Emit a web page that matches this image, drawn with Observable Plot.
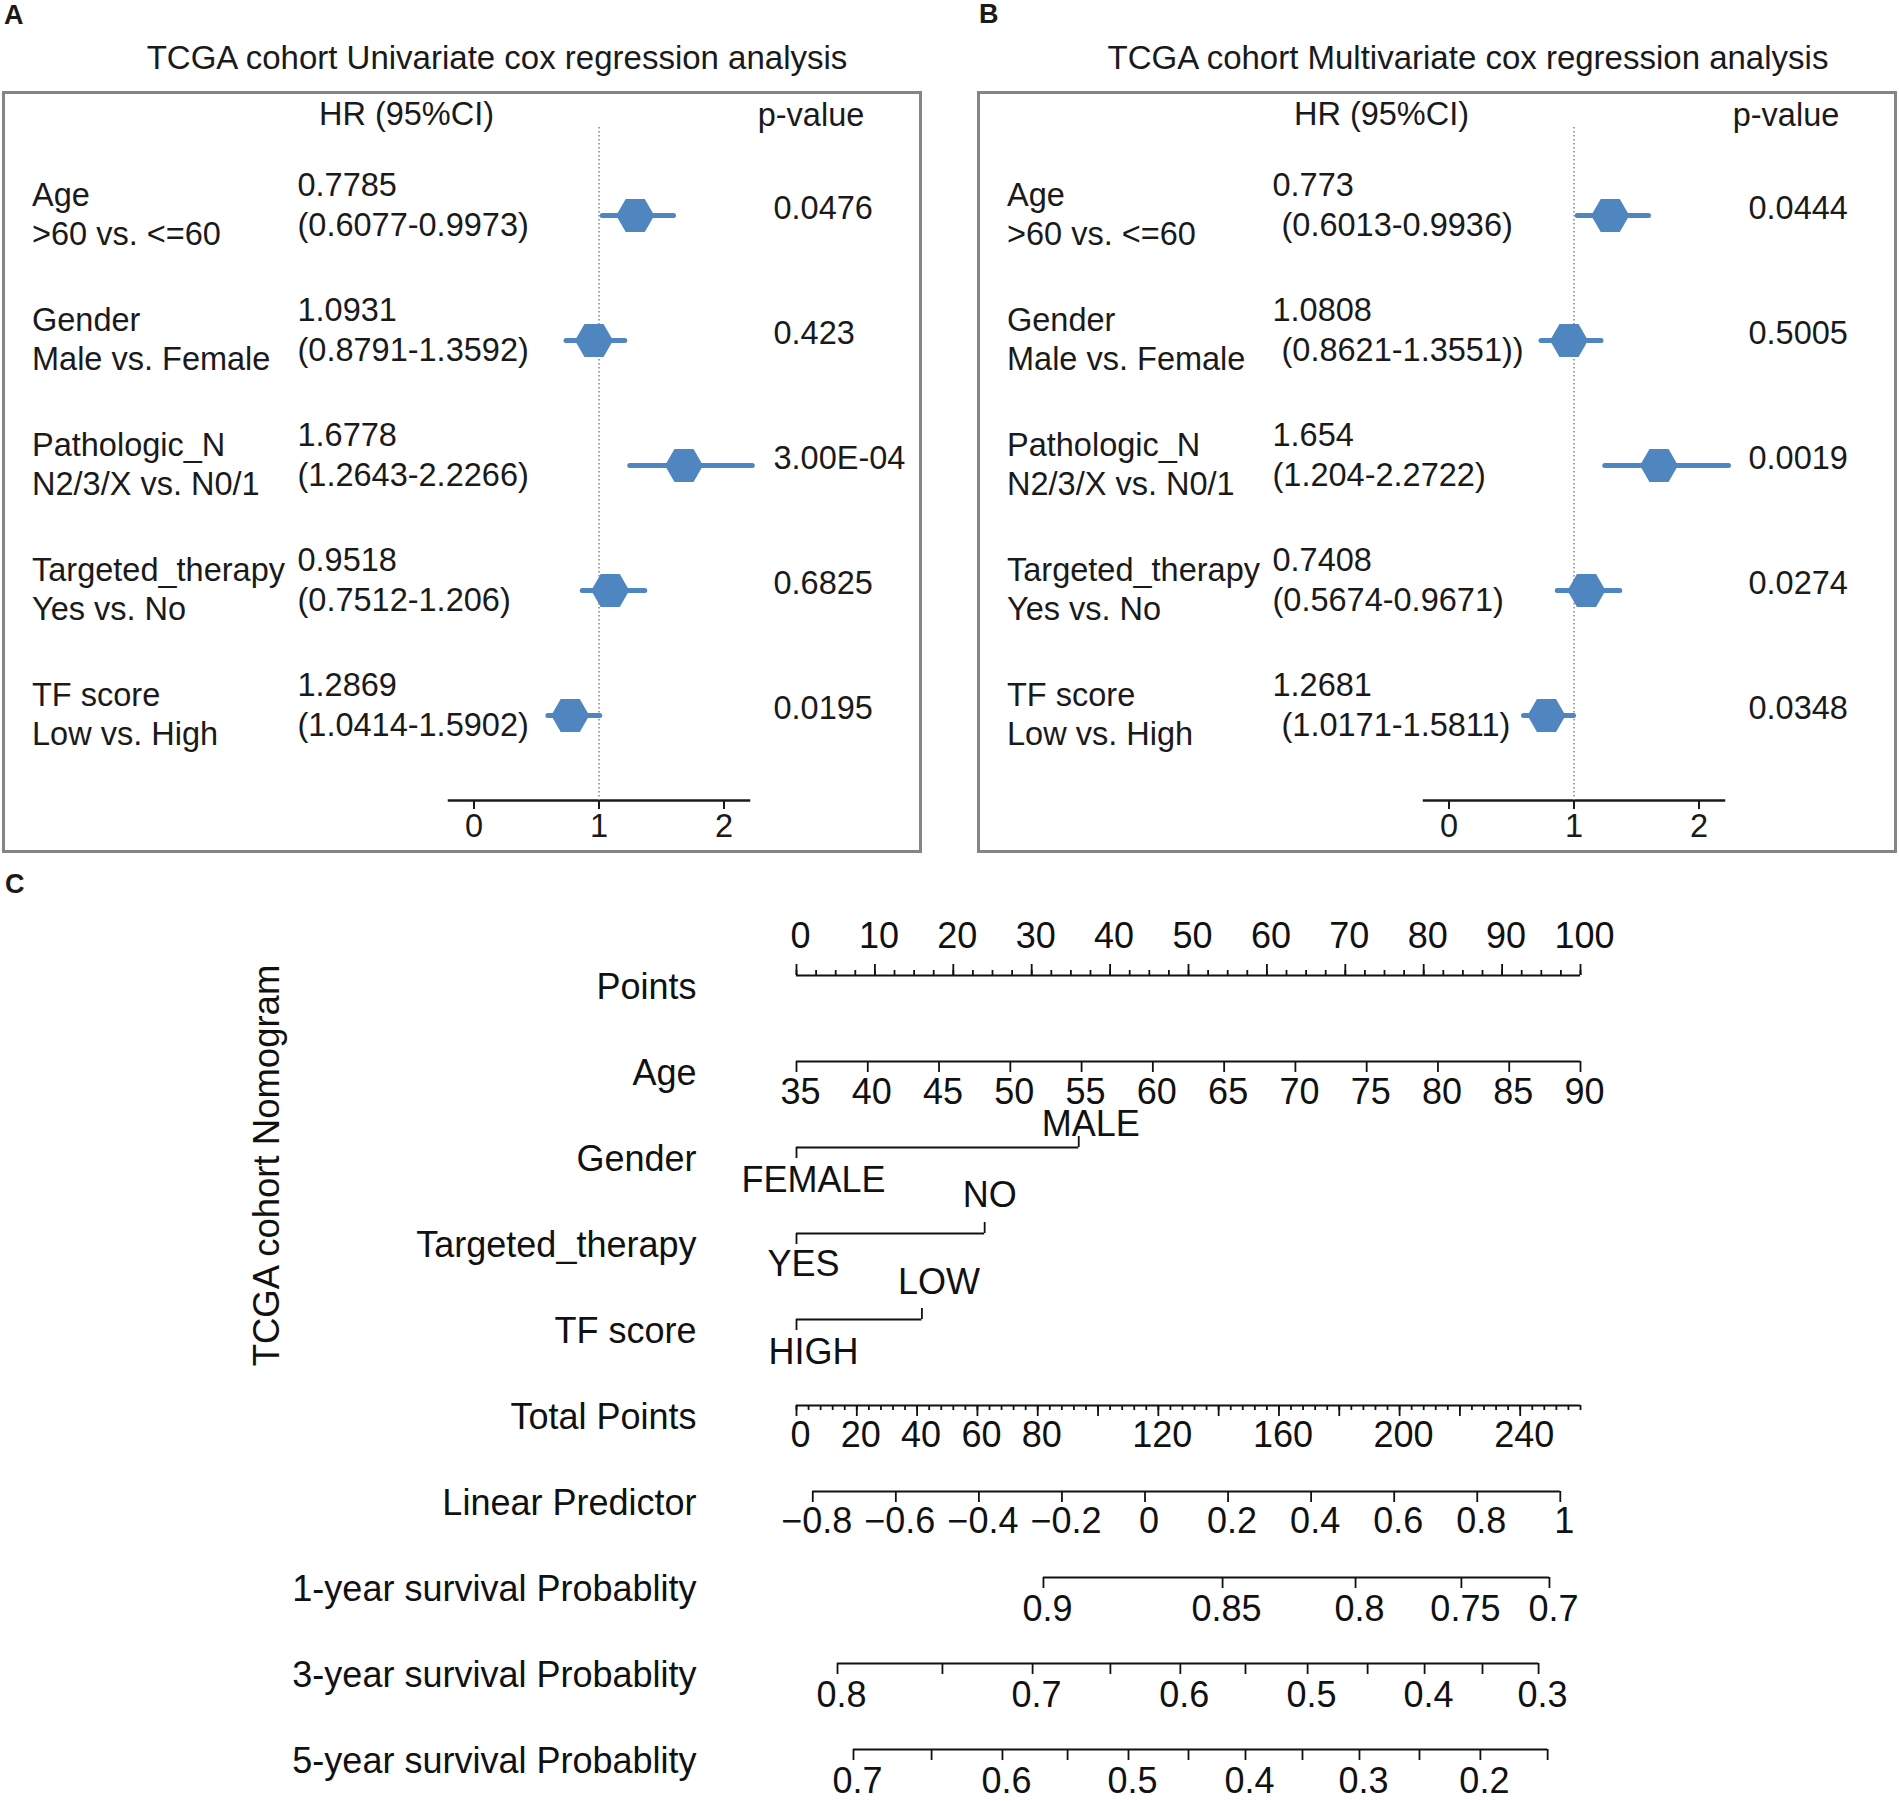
<!DOCTYPE html>
<html>
<head>
<meta charset="utf-8">
<script src="https://cdn.jsdelivr.net/npm/d3@7"></script>
<script src="https://cdn.jsdelivr.net/npm/@observablehq/plot@0.6"></script>
<style>
  body { margin: 0; background: #fff; }
  #page { position: relative; width: 1899px; height: 1801px; overflow: hidden;
          font-family: "Liberation Sans", Arial, Helvetica, sans-serif; color: #1a1a1a; background: #fff; }
  .abs { position: absolute; }
  .lab { font-weight: bold; font-size: 27px; line-height: 27px; }
  .title { font-size: 33px; line-height: 33px; text-align: center; white-space: nowrap; }
  .box { border: 3px solid #858585; box-sizing: border-box; }
  svg text { white-space: pre; }
</style>
</head>
<body>
<div id="page">
  <div class="abs lab" style="left:4px;top:2px">A</div>
  <div class="abs lab" style="left:979px;top:1px">B</div>
  <div class="abs lab" style="left:5px;top:871px">C</div>
  <div class="abs title" style="left:-3px;width:1000px;top:41px">TCGA cohort Univariate cox regression analysis</div>
  <div class="abs title" style="left:968px;width:1000px;top:41px">TCGA cohort Multivariate cox regression analysis</div>
  <div class="abs box" style="left:2px;top:91px;width:920px;height:762px"></div>
  <div class="abs box" style="left:977px;top:91px;width:920px;height:762px"></div>
  <div class="abs" id="fa" style="left:0px;top:92px;width:925px;height:760px"></div>
  <div class="abs" id="fb" style="left:975px;top:92px;width:925px;height:760px"></div>
  <div class="abs" id="nomo" style="left:0px;top:880px;width:1899px;height:921px"></div>
</div>
<script>
// ---------- Forest plot data (panels A and B) ----------
const rowLabels = [
  "Age\n>60 vs. <=60",
  "Gender\nMale vs. Female",
  "Pathologic_N\nN2/3/X vs. N0/1",
  "Targeted_therapy\nYes vs. No",
  "TF score\nLow vs. High"
];
const hrTextA = [
  "0.7785\n(0.6077-0.9973)",
  "1.0931\n(0.8791-1.3592)",
  "1.6778\n(1.2643-2.2266)",
  "0.9518\n(0.7512-1.206)",
  "1.2869\n(1.0414-1.5902)"
];
const pTextA = ["0.0476", "0.423", "3.00E-04", "0.6825", "0.0195"];
// marker positions as drawn on the HR axis
const markA = [1.29, 0.96, 1.68, 1.09, 0.77];
const lowA  = [1.03, 0.74, 1.25, 0.87, 0.595];
const highA = [1.60, 1.21, 2.23, 1.37, 1.01];

const hrTextB = [
  "0.773\n (0.6013-0.9936)",
  "1.0808\n (0.8621-1.3551))",
  "1.654\n(1.204-2.2722)",
  "0.7408\n(0.5674-0.9671)",
  "1.2681\n (1.0171-1.5811)"
];
const pTextB = ["0.0444", "0.5005", "0.0019", "0.0274", "0.0348"];
const markB = [1.29, 0.96, 1.68, 1.10, 0.78];
const lowB  = [1.03, 0.74, 1.25, 0.87, 0.60];
const highB = [1.60, 1.22, 2.24, 1.37, 1.00];
const hrAxisTicks = [0, 1, 2];
const hrAxisDomain = [-0.2, 2.2];

// ---------- Nomogram data (panel C) ----------
const nomoRows = ["Points", "Age", "Gender", "Targeted_therapy", "TF score", "Total Points",
  "Linear Predictor", "1-year survival Probablity", "3-year survival Probablity", "5-year survival Probablity"];
const pointsMajor = [0, 10, 20, 30, 40, 50, 60, 70, 80, 90, 100];
const pointsMinorStep = 2.5;
const ageTicks = [35, 40, 45, 50, 55, 60, 65, 70, 75, 80, 85, 90];
const ageRange = [35, 90];               // age at 0 and at 100 points
const genderLevels = ["FEMALE", "MALE"];
const genderPoints = [0, 36];
const therapyLevels = ["YES", "NO"];
const therapyPoints = [0, 24];
const tfLevels = ["HIGH", "LOW"];
const tfPoints = [0, 16];
const totalMax = 260;                    // total points spanning the 0-100 points width
const totalMajor = [0, 20, 40, 60, 80, 100, 120, 140, 160, 180, 200, 220, 240];
const totalMinorStep = 4;
const totalLabels = [0, 20, 40, 60, 80, 120, 160, 200, 240];
const lpTicks = [-0.8, -0.6, -0.4, -0.2, 0, 0.2, 0.4, 0.6, 0.8, 1];
const lpTotalAnchors = [5.4, 253.3];     // total points at lp -0.8 and lp 1
const surv1Ticks = [0.9, 0.85, 0.8, 0.75, 0.7];
const surv1Total = [81.9, 141.3, 185.4, 220.5, 249.7];
const surv1Labels = [0.9, 0.85, 0.8, 0.75, 0.7];
const surv3Ticks = [0.8, 0.75, 0.7, 0.65, 0.6, 0.55, 0.5, 0.45, 0.4, 0.35, 0.3];
const surv3Total = [13.6, 48.4, 78.3, 104.1, 127.3, 148.9, 169.5, 189.4, 208.3, 227.5, 246.1];
const surv3Labels = [0.8, 0.7, 0.6, 0.5, 0.4, 0.3];
const surv5Ticks = [0.7, 0.65, 0.6, 0.55, 0.5, 0.45, 0.4, 0.35, 0.3, 0.25, 0.2, 0.15];
const surv5Total = [18.9, 44.8, 68.3, 89.9, 110.1, 130.0, 148.9, 167.8, 186.7, 206.6, 226.8, 249.1];
const surv5Labels = [0.7, 0.6, 0.5, 0.4, 0.3, 0.2];

const BLUE = "#4f86c0";
const INK = "#1a1a1a";
const FONT = "'Liberation Sans', Arial, Helvetica, sans-serif";

function forest(hrText, pText, est, lo, hi) {
  const rows = rowLabels.map((label, i) => ({label, hr: hrText[i], p: pText[i], est: est[i], lo: lo[i], hi: hi[i]}));
  const L = 448.5;
  return Plot.plot({
    width: 925, height: 760,
    marginLeft: L, marginRight: 176.5, marginTop: 35, marginBottom: 52,
    x: {domain: hrAxisDomain, label: null},
    y: {type: "point", domain: rowLabels, range: [122, 624], padding: 0, axis: null},
    style: {background: "transparent", maxWidth: "none", overflow: "visible", fontFamily: FONT, fontSize: "32.5px", color: INK},
    marks: [
      Plot.frame({anchor: "bottom", stroke: INK, strokeWidth: 2.5}),
      Plot.axisX({ticks: hrAxisTicks, tickSize: 9, tickPadding: 4.5, tickFormat: d => String(d), fontSize: 32.5, stroke: INK, strokeWidth: 2, label: null}),
      Plot.ruleX([1], {stroke: "#8a8a8a", strokeWidth: 1.6, strokeDasharray: "1.6,2.4"}),
      Plot.ruleY(rows, {y: "label", x1: "lo", x2: "hi", stroke: BLUE, strokeWidth: 5, strokeLinecap: "round"}),
      Plot.dot(rows, {x: "est", y: "label", symbol: "hexagon", r: 16.5, rotate: 90, fill: BLUE, stroke: "none"}),
      Plot.text(rows, {y: "label", text: "label", frameAnchor: "left", textAnchor: "start", lineAnchor: "middle", dx: 31.5 - L, dy: -2, lineHeight: 1.2, fill: INK}),
      Plot.text(rows, {y: "label", text: "hr", frameAnchor: "left", textAnchor: "start", lineAnchor: "middle", dx: 297 - L, dy: -12, lineHeight: 1.22, fill: INK}),
      Plot.text(rows, {y: "label", text: "p", frameAnchor: "left", textAnchor: "start", lineAnchor: "middle", dx: 773 - L, dy: -7, fill: INK}),
      Plot.text(["HR (95%CI)"], {text: d => d, frameAnchor: "top-left", textAnchor: "middle", lineAnchor: "middle", dx: 406 - L, dy: -13, fill: INK}),
      Plot.text(["p-value"], {text: d => d, frameAnchor: "top-left", textAnchor: "middle", lineAnchor: "middle", dx: 810.5 - L, dy: -12, fill: INK})
    ]
  });
}

document.getElementById("fa").append(forest(hrTextA, pTextA, markA, lowA, highA));
document.getElementById("fb").append(forest(hrTextB, pTextB, markB, lowB, highB));

// ---------- Nomogram ----------
const T = t => t * 100 / totalMax;
const A = a => (a - ageRange[0]) / (ageRange[1] - ageRange[0]) * 100;
const LP = v => T(lpTotalAnchors[0] + (v - lpTicks[0]) / (lpTicks[lpTicks.length - 1] - lpTicks[0]) * (lpTotalAnchors[1] - lpTotalAnchors[0]));
const fmt = d3.format("");
const survTotal = (ticks, totals) => v => totals[ticks.indexOf(v)];
const s1 = survTotal(surv1Ticks, surv1Total), s3 = survTotal(surv3Ticks, surv3Total), s5 = survTotal(surv5Ticks, surv5Total);

const R = nomoRows;
const lines = [
  {row: R[0], x1: 0, x2: 100},
  {row: R[1], x1: A(ageRange[0]), x2: A(ageRange[1])},
  {row: R[2], x1: genderPoints[0], x2: genderPoints[1]},
  {row: R[3], x1: therapyPoints[0], x2: therapyPoints[1]},
  {row: R[4], x1: tfPoints[0], x2: tfPoints[1]},
  {row: R[5], x1: T(0), x2: T(totalMax)},
  {row: R[6], x1: LP(lpTicks[0]), x2: LP(lpTicks[lpTicks.length - 1])},
  {row: R[7], x1: T(surv1Total[0]), x2: T(surv1Total[surv1Total.length - 1])},
  {row: R[8], x1: T(surv3Total[0]), x2: T(surv3Total[surv3Total.length - 1])},
  {row: R[9], x1: T(surv5Total[0]), x2: T(surv5Total[surv5Total.length - 1])}
];

const upMajor = [
  ...pointsMajor.map(v => ({row: R[0], x: v})),
  {row: R[2], x: genderPoints[1]},
  {row: R[3], x: therapyPoints[1]},
  {row: R[4], x: tfPoints[1]}
];
const upMinor = d3.range(0, 100 + 1e-9, pointsMinorStep).map(v => ({row: R[0], x: v}));
const downMajor = [
  ...ageTicks.map(a => ({row: R[1], x: A(a)})),
  {row: R[2], x: genderPoints[0]},
  {row: R[3], x: therapyPoints[0]},
  {row: R[4], x: tfPoints[0]},
  ...totalMajor.map(t => ({row: R[5], x: T(t)})),
  ...lpTicks.map(v => ({row: R[6], x: LP(v)})),
  ...surv1Ticks.map(v => ({row: R[7], x: T(s1(v))})),
  ...surv3Ticks.map(v => ({row: R[8], x: T(s3(v))})),
  ...surv5Ticks.map(v => ({row: R[9], x: T(s5(v))}))
];
const downMinor = d3.range(0, totalMax + 1e-9, totalMinorStep).map(t => ({row: R[5], x: T(t)}));

const labelsAboveNum = pointsMajor.map(v => ({row: R[0], x: v, text: fmt(v)}));
const labelsAge = ageTicks.map(a => ({row: R[1], x: A(a), text: fmt(a)}));
const labelsBelowNum = [
  ...totalLabels.map(t => ({row: R[5], x: T(t), text: fmt(t)})),
  ...lpTicks.map(v => ({row: R[6], x: LP(v), text: fmt(v)}))
];
const labelsSurv = [
  ...surv1Labels.map(v => ({row: R[7], x: T(s1(v)), text: fmt(v)})),
  ...surv3Labels.map(v => ({row: R[8], x: T(s3(v)), text: fmt(v)})),
  ...surv5Labels.map(v => ({row: R[9], x: T(s5(v)), text: fmt(v)}))
];
const cat = (row, pts, levels, k) => [{row, x: pts[k], text: levels[k]}];

const LM = 796;
const INK2 = "#111";
const tick = (data, up, len) => Plot.ruleX(data, {x: "x", y1: "row", y2: "row",
  insetTop: up ? -len : 0, insetBottom: up ? 0 : -len, stroke: INK2, strokeWidth: 1.8});
const lab = (data, dy, dx) => Plot.text(data, {x: "x", y: "row", text: "text", dy, dx, fill: INK2});

const nomo = Plot.plot({
  width: 1899, height: 921,
  marginLeft: LM, marginRight: 319, marginTop: 92, marginBottom: 49,
  x: {domain: [0, 100], axis: null},
  y: {type: "point", domain: nomoRows, range: [92, 872], padding: 0, axis: null},
  style: {background: "transparent", maxWidth: "none", overflow: "visible", fontFamily: FONT, fontSize: "36px", color: INK2},
  marks: [
    Plot.ruleY(lines, {y: "row", x1: "x1", x2: "x2", stroke: INK2, strokeWidth: 2.2}),
    tick(upMajor, true, 11),
    tick(upMinor, true, 5),
    tick(downMajor, false, 11),
    tick(downMinor, false, 5),
    lab(labelsAboveNum, -39, 4),
    lab(labelsAge, 31, 4),
    lab(labelsBelowNum, 30, 4),
    lab(labelsSurv, 32, 4),
    lab(cat(R[2], genderPoints, genderLevels, 0), 33, 17),
    lab(cat(R[2], genderPoints, genderLevels, 1), -23, 12),
    lab(cat(R[3], therapyPoints, therapyLevels, 0), 31, 7),
    lab(cat(R[3], therapyPoints, therapyLevels, 1), -38, 5),
    lab(cat(R[4], tfPoints, tfLevels, 0), 33, 17),
    lab(cat(R[4], tfPoints, tfLevels, 1), -37, 17),
    Plot.text(nomoRows, {y: d => d, text: d => d, frameAnchor: "left", textAnchor: "end", dx: 696 - LM, dy: 12, fill: INK2}),
    Plot.text(["TCGA cohort Nomogram"], {text: d => d, frameAnchor: "left", rotate: -90, textAnchor: "middle", lineAnchor: "middle", fontSize: 36.5, dx: 267 - LM, dy: 285 - 482, fill: INK2})
  ]
});
document.getElementById("nomo").append(nomo);
</script>
</body>
</html>
